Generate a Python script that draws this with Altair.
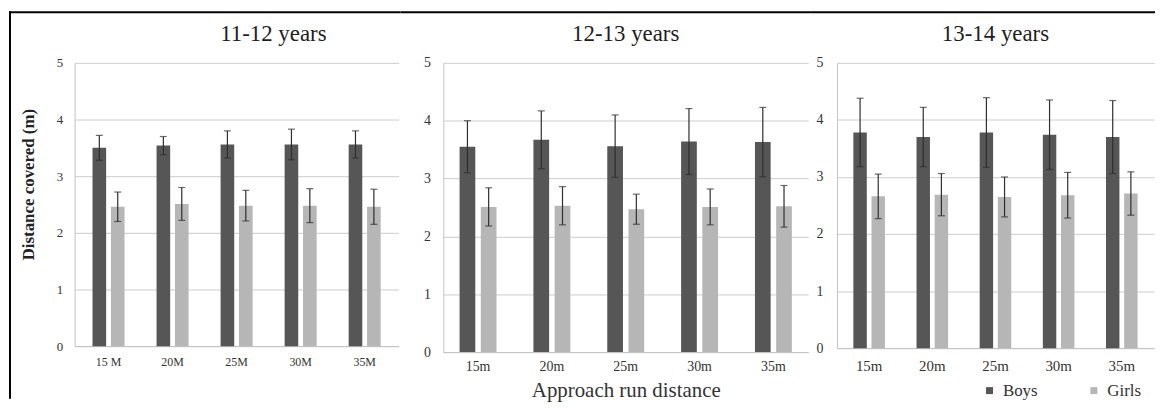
import altair as alt
import pandas as pd

FONT = "Liberation Serif"

series = ["Boys", "Girls"]
series_colors = ["#565656", "#b6b6b6"]
panel_titles = ["11-12 years", "12-13 years", "13-14 years"]
labels_1 = ["15 M", "20M", "25M", "30M", "35M"]
labels_23 = ["15m", "20m", "25m", "30m", "35m"]
y_ticks = [0, 1, 2, 3, 4, 5]

boys_1 = [3.50, 3.54, 3.56, 3.56, 3.56]
boys_sd_1 = [0.22, 0.16, 0.24, 0.27, 0.24]
girls_1 = [2.46, 2.51, 2.48, 2.48, 2.46]
girls_sd_1 = [0.26, 0.29, 0.27, 0.30, 0.31]

boys_2 = [3.55, 3.67, 3.56, 3.64, 3.63]
boys_sd_2 = [0.45, 0.50, 0.54, 0.57, 0.60]
girls_2 = [2.51, 2.53, 2.47, 2.51, 2.52]
girls_sd_2 = [0.33, 0.33, 0.26, 0.31, 0.36]

boys_3 = [3.78, 3.70, 3.78, 3.74, 3.70]
boys_sd_3 = [0.60, 0.52, 0.61, 0.61, 0.64]
girls_3 = [2.66, 2.69, 2.65, 2.68, 2.71]
girls_sd_3 = [0.39, 0.37, 0.35, 0.40, 0.38]


def make_df(labels, boys, boys_sd, girls, girls_sd):
    rows = []
    for i, lab in enumerate(labels):
        for s, m, sd in (("Boys", boys[i], boys_sd[i]), ("Girls", girls[i], girls_sd[i])):
            rows.append({"dist": lab, "sex": s, "mean": m, "lo": m - sd, "hi": m + sd})
    return pd.DataFrame(rows)


frame_df = pd.DataFrame({"k": [0]})


def panel(df, labels, title, width, height, xlab_size, xlab_pad, ylab_size, ylab_pad,
          pad_outer, title_dx, seg_left, seg_right, first=False, xtitle=None, legend=None):
    xscale = alt.Scale(paddingInner=0.5, paddingOuter=pad_outer)
    xaxis = alt.Axis(title=xtitle, labelFont=FONT, labelFontSize=xlab_size, labelColor="#333333",
                     labelPadding=xlab_pad, ticks=False, domainColor="#c4c4c4", grid=False,
                     labelAngle=0, titleFont=FONT, titleFontSize=21, titleFontWeight="normal",
                     titleColor="#333333", titlePadding=6)
    X = alt.X("dist:N", sort=labels, scale=xscale, axis=xaxis)
    XO = alt.XOffset("sex:N", sort=series, scale=alt.Scale(paddingInner=0.26))
    yaxis_kw = dict(values=y_ticks, labelFont=FONT, labelFontSize=ylab_size, labelColor="#333333",
                    labelPadding=ylab_pad, ticks=False, domainColor="#c4c4c4",
                    gridColor="#cdcdcd", gridWidth=1)
    if first:
        yaxis = alt.Axis(title="Distance covered (m)", titleFont=FONT, titleFontSize=17,
                         titleFontWeight="bold", titleColor="#222222", titleX=-46, titleY=122,
                         titleAngle=270, titleAlign="center", titleBaseline="middle", **yaxis_kw)
    else:
        yaxis = alt.Axis(title=None, **yaxis_kw)
    yscale = alt.Scale(domain=[0, 5], nice=False)
    base = alt.Chart(df)
    color = alt.Color("sex:N", scale=alt.Scale(domain=series, range=series_colors),
                      legend=legend)
    bars = base.mark_bar().encode(x=X, xOffset=XO, y=alt.Y("mean:Q", scale=yscale, axis=yaxis), color=color)
    err = base.mark_rule(color="#2e2e2e", strokeWidth=1.2).encode(
        x=X, xOffset=XO, y=alt.Y("lo:Q", scale=yscale, axis=yaxis), y2="hi:Q")
    cap_hi = base.mark_tick(color="#2e2e2e", thickness=1.2, size=7).encode(
        x=X, xOffset=XO, y=alt.Y("hi:Q", scale=yscale, axis=yaxis))
    cap_lo = base.mark_tick(color="#2e2e2e", thickness=1.2, size=7).encode(
        x=X, xOffset=XO, y=alt.Y("lo:Q", scale=yscale, axis=yaxis))
    # figure frame (top edge), drawn as an unstroked rect so it adds no stroke padding to bounds
    top_seg = alt.Chart(frame_df).mark_rect(color="black", strokeWidth=0).encode(
        x=alt.value(seg_left), x2=alt.value(seg_right), y=alt.value(-52), y2=alt.value(-50))
    layers = [bars, err, cap_hi, cap_lo, top_seg]
    if first:
        left_line = alt.Chart(frame_df).mark_rect(color="black", strokeWidth=0).encode(
            x=alt.value(seg_left), x2=alt.value(seg_left + 2), y=alt.value(-52), y2=alt.value(338))
        layers.append(left_line)
    return alt.layer(*layers).properties(
        width=width, height=height,
        title=alt.Title(title, font=FONT, fontSize=23, fontWeight="normal", color="#1e1e1e",
                        offset=0, anchor="middle", dx=title_dx, dy=35, frame="group"),
    )


legend = alt.Legend(orient="none", legendX=912, legendY=321, direction="horizontal", columns=2,
                    title=None, symbolType="square", symbolSize=49, symbolStrokeWidth=0,
                    labelFont=FONT, labelFontSize=17, labelColor="#333333", columnPadding=48,
                    labelOffset=5, padding=0)

p1 = panel(make_df(labels_1, boys_1, boys_sd_1, girls_1, girls_sd_1), labels_1, panel_titles[0],
           326, 285, 12, 10, 13, 12, 0.28, 37, -66, 328, first=True, legend=legend)
p2 = panel(make_df(labels_23, boys_2, boys_sd_2, girls_2, girls_sd_2), labels_23, panel_titles[1],
           367, 291, 14, 8, 14, 13, 0.22, 0, -43, 369, xtitle="Approach run distance", legend=legend)
p3 = panel(make_df(labels_23, boys_3, boys_sd_3, girls_3, girls_sd_3), labels_23, panel_titles[2],
           319, 287, 15, 11, 14, 14, 0.26, 0, -27, 320, legend=legend)

chart = alt.hconcat(p1, p2, p3, spacing=0).resolve_scale(
    x="independent", y="independent", xOffset="independent", color="shared"
).properties(
    padding={"left": 1, "top": 2, "right": 0, "bottom": 0}, background="white"
).configure_view(stroke=None)

chart.save("out.html", embed_options={"renderer": "svg", "actions": False})
